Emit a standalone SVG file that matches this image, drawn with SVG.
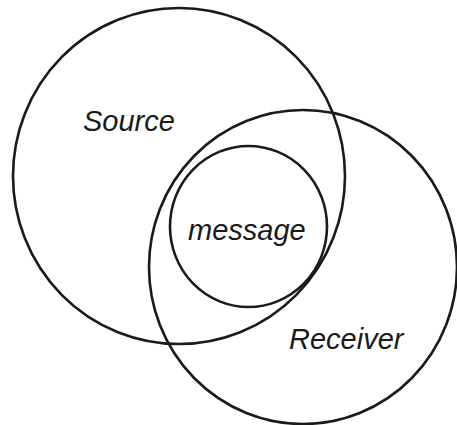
<svg xmlns="http://www.w3.org/2000/svg" width="457" height="425" viewBox="0 0 457 425">
<style>
.c{fill:none;stroke:#1a1a1a;stroke-width:2.6}
.t{font-family:"Liberation Sans",Arial,sans-serif;font-style:italic;font-size:29px;fill:#1a1a1a}
</style>
<rect width="457" height="425" fill="#fff"/>
<g id="source">
<ellipse class="c" cx="179" cy="176" rx="166" ry="168"/>
<text class="t" x="83" y="131">Source</text>
</g>
<g id="receiver">
<ellipse class="c" cx="303" cy="267" rx="154" ry="157"/>
<text class="t" x="289" y="349">Receiver</text>
</g>
<g id="message">
<ellipse class="c" cx="248.5" cy="226.5" rx="78.5" ry="80.5"/>
<text class="t" x="188" y="240">message</text>
</g>
<g id="connectors"/>
</svg>
